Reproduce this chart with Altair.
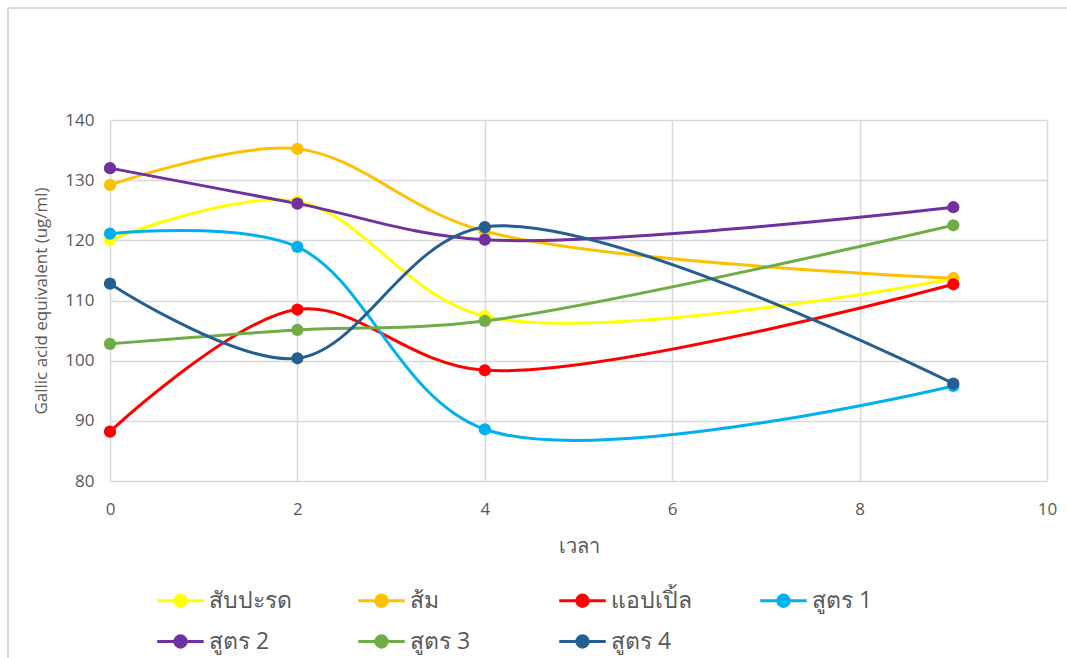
import altair as alt
import pandas as pd

# Sampling times and measured gallic acid equivalent per formulation
times = [0, 2, 4, 9]
series_names = ["สับปะรด", "ส้ม", "แอปเปิ้ล", "สูตร 1", "สูตร 2", "สูตร 3", "สูตร 4"]
pineapple = [120.1, 126.5, 107.4, 113.6]
orange = [129.2, 135.2, 121.5, 113.7]
apple = [88.2, 108.5, 98.4, 112.7]
formula1 = [121.1, 118.9, 88.6, 95.8]
formula2 = [132.0, 126.1, 120.1, 125.5]
formula3 = [102.8, 105.1, 106.6, 122.5]
formula4 = [112.8, 100.4, 122.2, 96.2]
series_colors = ["#FFFF00", "#FFC000", "#FF0000", "#00B0F0", "#7030A0", "#70AD47", "#255E91"]

values = [pineapple, orange, apple, formula1, formula2, formula3, formula4]
rows = []
for name, ys in zip(series_names, values):
    for t, v in zip(times, ys):
        rows.append({"series": name, "time": t, "value": v})
df = pd.DataFrame(rows)

FONT = "Open Sans"
scale = alt.Scale(domain=series_names, range=series_colors)

x_enc = alt.X("time:Q", title="เวลา",
              scale=alt.Scale(domain=[0, 10], nice=False),
              axis=alt.Axis(values=[0, 2, 4, 6, 8, 10], format="d", labelFlush=False,
                            labelPadding=20, titlePadding=19, titleFontSize=20))
y_enc = alt.Y("value:Q", title="Gallic acid equivalent (ug/ml)",
              scale=alt.Scale(domain=[80, 140], nice=False, zero=False),
              axis=alt.Axis(values=[80, 90, 100, 110, 120, 130, 140], format="d",
                            labelPadding=16, titlePadding=14, titleFontSize=17))

# Legend entry: a short stroke with a solid dot (concentric rings) in the middle
dot = "".join(
    f"M-{r},0A{r},{r},0,1,1,{r},0A{r},{r},0,1,1,-{r},0" for r in (0.38, 0.26, 0.14, 0.04)
)
legend = alt.Legend(
    title=None, orient="none", legendX=54, legendY=464, direction="horizontal",
    columns=4, gridAlign="all", padding=0,
    symbolType="M-1.55,0H1.55" + dot,
    symbolSize=900, symbolStrokeWidth=3, labelFontSize=23, labelFont=FONT,
    labelColor="#595959", columnPadding=60, rowPadding=12, labelOffset=12,
    labelLimit=300,
)

lines = alt.Chart(df).mark_line(interpolate="catmull-rom", strokeWidth=3).encode(
    x=x_enc, y=y_enc,
    color=alt.Color("series:N", scale=scale, legend=legend, sort=series_names),
)

points = alt.Chart(df).mark_point(filled=True, size=150, opacity=1).encode(
    x="time:Q", y="value:Q",
    color=alt.Color("series:N", scale=scale, legend=None),
)

# Chart-area frame along the top and left edges
edge = pd.DataFrame({"edge": [0]})
frame_top = alt.Chart(edge).mark_rule(color="#d9d9d9", strokeWidth=2).encode(
    x=alt.value(-102), x2=alt.value(957), y=alt.value(-112))
frame_left = alt.Chart(edge).mark_rule(color="#d9d9d9", strokeWidth=2).encode(
    x=alt.value(-102), y=alt.value(-112), y2=alt.value(538))

chart = alt.layer(frame_top, frame_left, lines, points).properties(
    width=937, height=361,
    autosize=alt.AutoSizeParams(type="none"),
    padding={"left": 110, "top": 120, "right": 20, "bottom": 177},
    background="white",
).configure_view(stroke=None).configure_axis(
    labelFont=FONT, titleFont=FONT, labelFontSize=17, labelColor="#595959",
    titleColor="#595959", titleFontWeight="normal", grid=True,
    gridColor="#d9d9d9", gridWidth=1.5, domain=False, ticks=False,
)

chart.save("out.html", embed_options={"renderer": "svg", "actions": False})
